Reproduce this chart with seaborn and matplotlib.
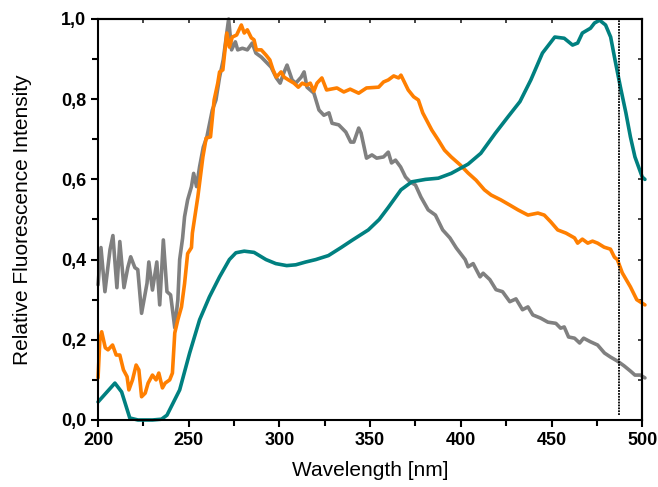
import numpy as np
import pandas as pd
import matplotlib
matplotlib.use("Agg")
import matplotlib.pyplot as plt
from matplotlib.ticker import MultipleLocator, FuncFormatter
import seaborn as sns

# teal curve (smooth)
teal_x = [200, 209.3, 213, 217.5, 222, 230, 235, 238, 245, 250.5, 256, 261.4, 267, 272.4,
          276, 280.6, 286, 292.6, 298, 304, 309, 314.5, 320, 327, 334, 340, 349, 355, 360,
          367, 373, 380.5, 387.6, 394.7, 404, 411, 419, 426, 432.6, 438.6, 445, 451.8, 457,
          461.6, 464.4, 467, 471.5, 473.7, 476.5, 479.8, 482.6, 485, 488, 491, 493.5, 496,
          500, 501.5]
teal_y = [0.045, 0.092, 0.07, 0.005, 0.0, 0.0, 0.002, 0.012, 0.075, 0.167, 0.25, 0.307, 0.357,
          0.40, 0.417, 0.421, 0.418, 0.40, 0.39, 0.385, 0.387, 0.394, 0.40, 0.41, 0.43, 0.448,
          0.474, 0.50, 0.53, 0.574, 0.594, 0.60, 0.603, 0.615, 0.638, 0.665, 0.715, 0.756,
          0.794, 0.848, 0.915, 0.955, 0.952, 0.935, 0.94, 0.965, 0.977, 0.99, 0.997, 0.985,
          0.955, 0.898, 0.83, 0.766, 0.706, 0.656, 0.606, 0.60]

# orange curve
orange_x = [200, 201, 202, 204, 205.5, 208, 210, 212, 214, 216, 217, 219, 221, 222.5, 224,
            226, 227.6, 230, 232, 233.5, 235.5, 237, 239.5, 241, 242.3, 244, 246, 247.7,
            249.4, 251.5, 252, 255, 257.8, 259.6, 262, 264, 266, 267, 268.8, 271, 272.4, 274,
            276.4, 279, 280.6, 282.3, 284.5, 286, 287.3, 290, 292.6, 294.7, 296.5, 298.3,
            300.9, 302.6, 305, 308, 310.4, 312.6, 315, 317, 319, 320.7, 323.4, 326, 331.7,
            335.5, 339, 343.7, 348, 354.7, 357.4, 360, 363, 365.7, 367, 371, 374, 376.6, 379,
            384, 387.6, 391, 394.7, 399.7, 404, 408.4, 413, 416.7, 422, 427, 431.5, 437,
            442.5, 446, 449.6, 453.4, 458, 462.7, 464.4, 467, 470, 472.6, 475.4, 479, 482.5,
            484.7, 486.3, 489, 493.5, 497, 501.5]
orange_y = [0.105, 0.20, 0.22, 0.18, 0.175, 0.187, 0.162, 0.162, 0.125, 0.108, 0.075, 0.10,
            0.137, 0.125, 0.058, 0.067, 0.092, 0.112, 0.10, 0.117, 0.08, 0.092, 0.10, 0.117,
            0.217, 0.25, 0.282, 0.34, 0.415, 0.43, 0.466, 0.556, 0.656, 0.703, 0.706, 0.798,
            0.84, 0.868, 0.873, 0.965, 0.93, 0.955, 0.96, 0.985, 0.965, 0.973, 0.953, 0.948,
            0.923, 0.923, 0.91, 0.898, 0.873, 0.855, 0.868, 0.855, 0.848, 0.84, 0.83, 0.84,
            0.835, 0.84, 0.82, 0.84, 0.853, 0.823, 0.828, 0.818, 0.825, 0.815, 0.828, 0.83,
            0.843, 0.848, 0.858, 0.853, 0.86, 0.823, 0.806, 0.798, 0.766, 0.723, 0.698, 0.673,
            0.656, 0.636, 0.616, 0.598, 0.574, 0.561, 0.549, 0.536, 0.524, 0.511, 0.516,
            0.511, 0.494, 0.474, 0.466, 0.454, 0.441, 0.451, 0.441, 0.446, 0.441, 0.431,
            0.426, 0.406, 0.40, 0.367, 0.332, 0.30, 0.287]

# gray curve
gray_x = [200, 201.6, 203.8, 206.6, 208.2, 210.4, 212, 214.3, 216.4, 218, 220.3, 221.9, 224,
          227, 228, 230, 232.4, 234, 236, 238, 240, 242.3, 244, 245, 246.6, 247.7, 249.4,
          251.5, 252.7, 254.3, 256, 258, 260, 263, 265, 267, 269, 272, 273.6, 275.7, 277,
          279.6, 282.3, 285, 287, 290, 292.6, 295.4, 298.3, 300.4, 302.6, 304.2, 307, 309,
          312, 313.6, 315.2, 319, 321.8, 324.5, 327.3, 329, 332.7, 336.6, 339.3, 341, 343.7,
          345, 348, 351, 353.6, 357.4, 360, 361.8, 364, 366.8, 369.5, 372, 375, 378, 382,
          386, 390, 394, 397.5, 399.7, 402.4, 404, 406.8, 410.6, 412.3, 416, 419.4, 423,
          427, 430.4, 434, 437, 439.7, 444, 448, 452.4, 455, 457, 459.4, 462.7, 465.5,
          467.7, 471.5, 475.4, 479.2, 482.5, 486.3, 490, 493.5, 496, 499, 501.5]
gray_y = [0.337, 0.43, 0.32, 0.425, 0.46, 0.33, 0.445, 0.33, 0.38, 0.407, 0.38, 0.375, 0.266,
          0.341, 0.394, 0.324, 0.394, 0.287, 0.449, 0.32, 0.312, 0.23, 0.30, 0.40, 0.453,
          0.507, 0.549, 0.582, 0.615, 0.582, 0.632, 0.68, 0.706, 0.773, 0.798, 0.855, 0.898,
          1.0, 0.923, 0.943, 0.923, 0.927, 0.923, 0.94, 0.915, 0.905, 0.893, 0.88, 0.853,
          0.84, 0.868, 0.885, 0.848, 0.84, 0.855, 0.868, 0.83, 0.815, 0.773, 0.76, 0.766,
          0.74, 0.736, 0.718, 0.693, 0.693, 0.728, 0.716, 0.653, 0.661, 0.653, 0.656, 0.668,
          0.641, 0.648, 0.631, 0.606, 0.594, 0.586, 0.556, 0.524, 0.511, 0.474, 0.454,
          0.429, 0.416, 0.40, 0.382, 0.39, 0.357, 0.366, 0.35, 0.325, 0.32, 0.295, 0.302,
          0.275, 0.282, 0.262, 0.254, 0.244, 0.241, 0.229, 0.232, 0.207, 0.204, 0.192,
          0.204, 0.195, 0.187, 0.167, 0.157, 0.147, 0.135, 0.122, 0.112, 0.112, 0.105]

cutoff_nm = 487

sns.set_theme(style="ticks")
plt.rcParams['font.family'] = ['Liberation Sans', 'DejaVu Sans']

fig = plt.figure(figsize=(6.58, 4.87), dpi=100)
ax = fig.add_axes([0.149, 0.1376, 0.827, 0.8234])

lw = 2.6
sns.lineplot(x=gray_x, y=gray_y, ax=ax, color="#808080", lw=lw, sort=False,
             estimator=None, clip_on=False)
sns.lineplot(x=orange_x, y=orange_y, ax=ax, color="#FF7F00", lw=lw, sort=False,
             estimator=None, clip_on=False)
sns.lineplot(x=teal_x, y=teal_y, ax=ax, color="#008080", lw=lw, sort=False,
             estimator=None, clip_on=False)
ax.axvline(cutoff_nm, ymin=0.012, ymax=1, color="black", lw=1.3, ls=(0, (1, 0.6)))

ax.set_xlim(200, 500)
ax.set_ylim(0, 1.0)
ax.xaxis.set_major_locator(MultipleLocator(50))
ax.xaxis.set_minor_locator(MultipleLocator(25))
ax.yaxis.set_major_locator(MultipleLocator(0.2))
ax.yaxis.set_minor_locator(MultipleLocator(0.1))
ax.yaxis.set_major_formatter(FuncFormatter(lambda v, p: f"{v:.1f}".replace(".", ",")))

for s in ax.spines.values():
    s.set_color("black")
    s.set_linewidth(1.5)

ax.tick_params(which="both", direction="out", width=1.5, colors="black",
               labelsize=13)
ax.tick_params(which="major", length=5)
ax.tick_params(which="minor", length=4)
for lab in ax.get_xticklabels() + ax.get_yticklabels():
    lab.set_fontweight("bold")

top = ax.secondary_xaxis("top")
top.xaxis.set_major_locator(MultipleLocator(50))
top.xaxis.set_minor_locator(MultipleLocator(25))
top.tick_params(which="both", direction="in", length=3, width=1.2, labeltop=False)
right = ax.secondary_yaxis("right")
right.yaxis.set_major_locator(MultipleLocator(0.2))
right.yaxis.set_minor_locator(MultipleLocator(0.1))
right.tick_params(which="both", direction="in", length=3, width=1.2, labelright=False)
top.spines["top"].set_linewidth(1.5)
right.spines["right"].set_linewidth(1.5)

ax.set_xlabel("Wavelength [nm]", fontsize=15, labelpad=9, color="black")
ax.set_ylabel("Relative Fluorescence Intensity", fontsize=15, labelpad=21, color="black")

fig.savefig("out.png", dpi=100)
